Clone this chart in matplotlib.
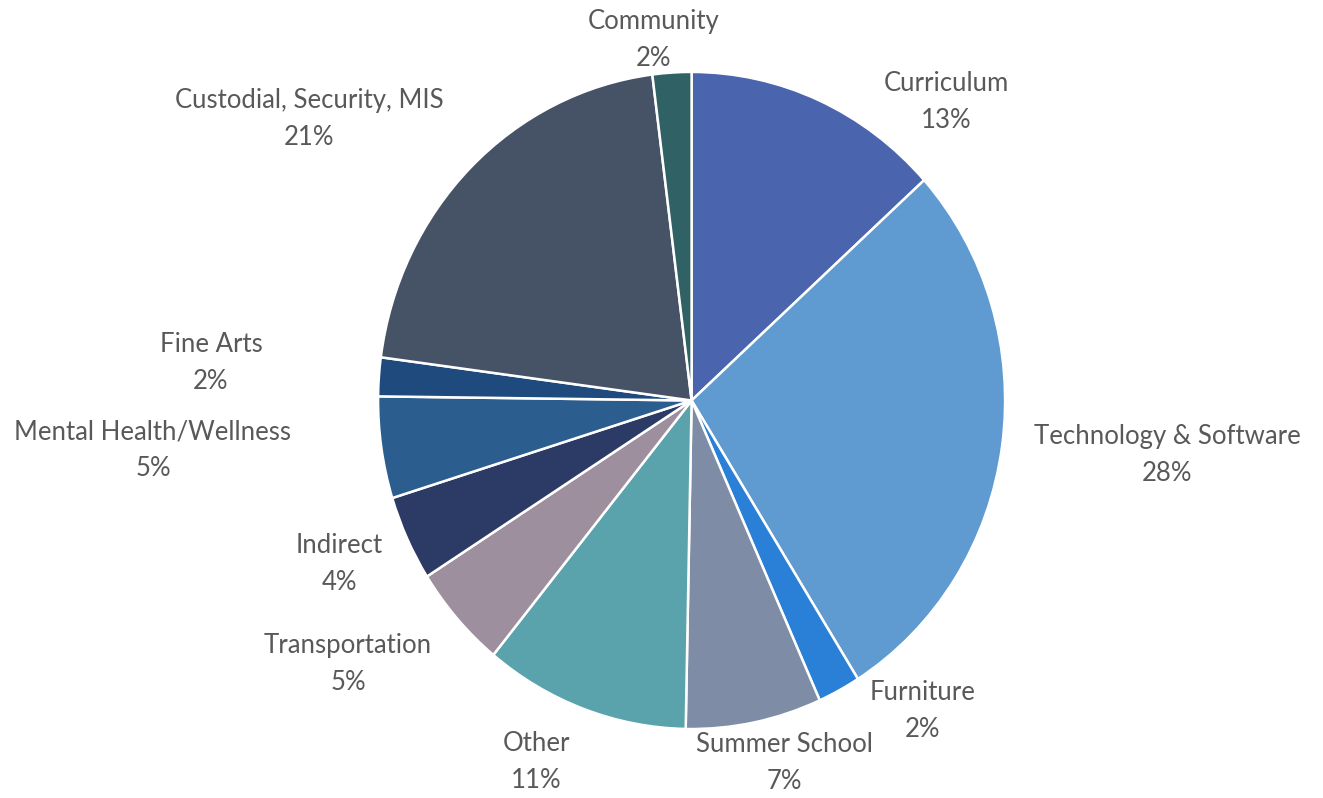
import matplotlib
matplotlib.use("Agg")
import matplotlib.pyplot as plt

# share of spending by category, clockwise from 12 o'clock
categories = ["Curriculum", "Technology & Software", "Furniture", "Summer School",
              "Other", "Transportation", "Indirect", "Mental Health/Wellness",
              "Fine Arts", "Custodial, Security, MIS", "Community"]
shares = [13.3, 27.8, 2.2, 7.0, 10.6, 5.1, 4.2, 5.0, 1.9, 20.9, 2.0]

colors = ["#4a64ad", "#5f9bd0", "#2a7fd6", "#7e8ca6", "#5aa3ad", "#9d8f9e",
          "#2c3a66", "#2b5e8e", "#1f4a7e", "#465366", "#2f6165"]

# label centres in pie-radius units (layout only)
label_pos = [(0.812, 0.909), (1.517, -0.166), (0.738, -0.945), (0.295, -1.103),
             (-0.496, -1.100), (-1.096, -0.802), (-1.124, -0.498), (-1.718, -0.151),
             (-1.533, 0.114), (-1.220, 0.857), (-0.120, 1.097)]

plt.rcParams['font.family'] = ['Lato', 'DejaVu Sans']

fig = plt.figure(figsize=(13.23, 7.98), dpi=100)
ax = fig.add_axes([0, 0, 1, 1])

total = sum(shares)
ax.pie(shares, colors=colors, startangle=90, counterclock=False, radius=1,
       wedgeprops=dict(edgecolor="white", linewidth=1.8))

for name, val, (x, y) in zip(categories, shares, label_pos):
    pct = round(val / total * 100)
    ax.text(x, y, f"{name}\n{pct}%", ha="center", va="center", fontsize=18.5,
            color="#595959", linespacing=1.6, multialignment="center")

# the original pie is slightly taller than wide
ax.set_aspect("auto")
ax.set_xlim(-2.206, 2.014)
ax.set_ylim(-1.210, 1.219)
ax.axis("off")

fig.savefig("out.png", dpi=100, facecolor="white")
